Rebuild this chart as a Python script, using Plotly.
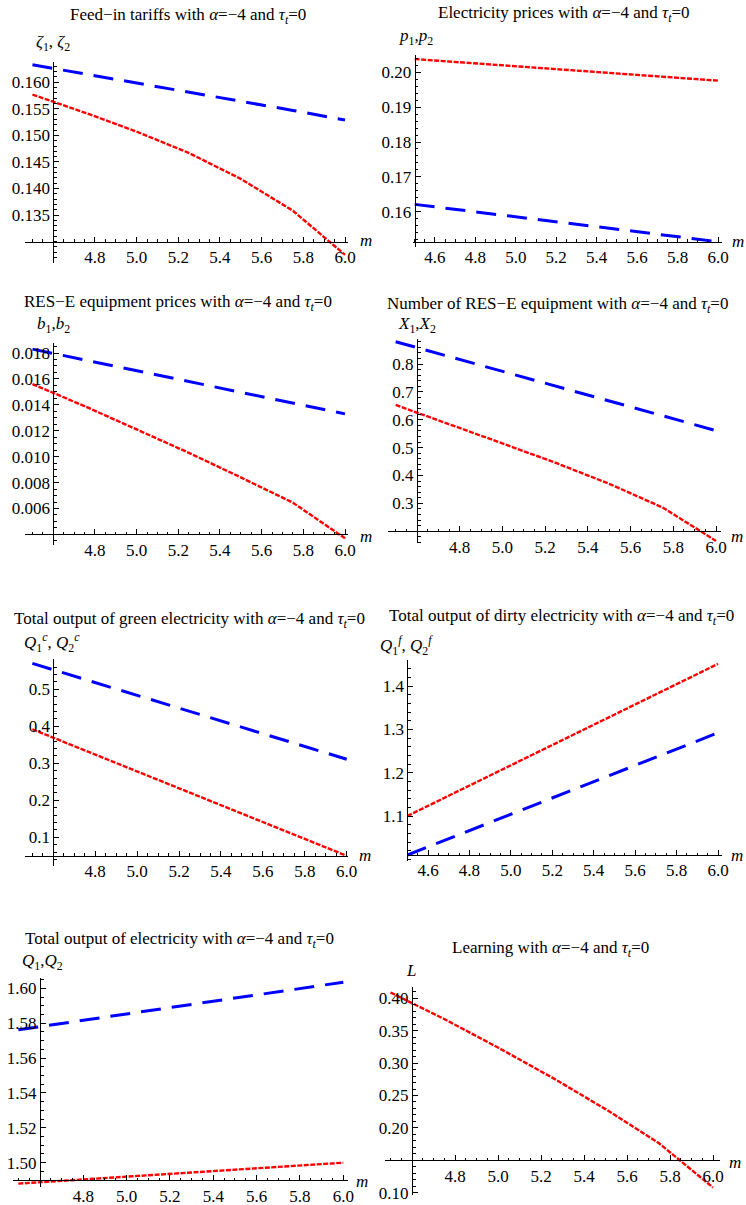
import plotly.graph_objects as go

# ---------------- data ----------------
m = [4.5, 4.75, 5.0, 5.25, 5.5, 5.75, 6.0]

zeta_blue = [0.1633, 0.1616, 0.1599, 0.1581, 0.1564, 0.1547, 0.1529]
zeta_red = [0.1577, 0.1543, 0.1507, 0.1467, 0.1418, 0.1358, 0.1275]

p_blue = [0.1621, 0.1603, 0.1585, 0.1568, 0.1550, 0.1532, 0.1514]
p_red = [0.2038, 0.2028, 0.2017, 0.2007, 0.1997, 0.1986, 0.1976]

b_blue = [0.0183, 0.01747, 0.01663, 0.0158, 0.01497, 0.01413, 0.0133]
b_red = [0.0156, 0.0139, 0.0121, 0.0103, 0.0084, 0.00645, 0.0037]

X_blue = [0.880, 0.827, 0.774, 0.720, 0.667, 0.614, 0.561]
X_red = [0.653, 0.585, 0.515, 0.445, 0.370, 0.285, 0.165]

Qc_blue = [0.570, 0.527, 0.484, 0.441, 0.397, 0.354, 0.311]
Qc_red = [0.392, 0.335, 0.278, 0.221, 0.164, 0.107, 0.050]

Qf_blue = [1.010, 1.057, 1.104, 1.151, 1.198, 1.245, 1.292]
Qf_red = [1.100, 1.1585, 1.217, 1.2755, 1.334, 1.3925, 1.451]

Q_blue = [1.5762, 1.5807, 1.5853, 1.5899, 1.5944, 1.5990, 1.6035]
Q_red = [1.4880, 1.4900, 1.4920, 1.4940, 1.4960, 1.4980, 1.5000]

L_red = [0.409, 0.368, 0.324, 0.278, 0.229, 0.176, 0.108]

# tick values / labels
x_ticks_short = [4.8, 5.0, 5.2, 5.4, 5.6, 5.8, 6.0]
x_ticks_long = [4.6, 4.8, 5.0, 5.2, 5.4, 5.6, 5.8, 6.0]
y_ticks_zeta = [0.135, 0.140, 0.145, 0.150, 0.155, 0.160]
y_ticks_p = [0.16, 0.17, 0.18, 0.19, 0.20]
y_ticks_b = [0.006, 0.008, 0.010, 0.012, 0.014, 0.016, 0.018]
y_ticks_X = [0.3, 0.4, 0.5, 0.6, 0.7, 0.8]
y_ticks_Qc = [0.1, 0.2, 0.3, 0.4, 0.5]
y_ticks_Qf = [1.1, 1.2, 1.3, 1.4]
y_ticks_Q = [1.50, 1.52, 1.54, 1.56, 1.58, 1.60]
y_ticks_L = [0.10, 0.20, 0.25, 0.30, 0.35, 0.40]

TAIL = " with <i>\u03b1</i>=\u22124 and <i>\u03c4</i><sub><i>t</i></sub>=0"
titles = [
    "Feed\u2212in tariffs" + TAIL,
    "Electricity prices" + TAIL,
    "RES\u2212E equipment prices" + TAIL,
    "Number of RES\u2212E equipment" + TAIL,
    "Total output of green electricity" + TAIL,
    "Total output of dirty electricity" + TAIL,
    "Total output of electricity" + TAIL,
    "Learning" + TAIL,
]
ylabels = [
    "<i>\u03b6</i><sub>1</sub>, <i>\u03b6</i><sub>2</sub>",
    "<i>p</i><sub>1</sub>,<i>p</i><sub>2</sub>",
    "<i>b</i><sub>1</sub>,<i>b</i><sub>2</sub>",
    "<i>X</i><sub>1</sub>,<i>X</i><sub>2</sub>",
    "<i>Q</i><sub>1</sub><sup><i>c</i></sup>, <i>Q</i><sub>2</sub><sup><i>c</i></sup>",
    "<i>Q</i><sub>1</sub><sup><i>f</i></sup>, <i>Q</i><sub>2</sub><sup><i>f</i></sup>",
    "<i>Q</i><sub>1</sub>,<i>Q</i><sub>2</sub>",
    "<i>L</i>",
]

# ---------------- layout geometry (pixels) ----------------
W0, H0 = 746, 1205


def fx(p):
    return p / W0


def fy(p):
    return 1 - p / H0


FONT = "Liberation Serif"
FS = 17

panels = [
    dict(series=[zeta_blue, zeta_red], xt=x_ticks_short, xfmt="%.1f", yt=y_ticks_zeta, yfmt="%.3f", ymin=0.001,
         xmap=(4.6, 53.3, 6.0, 345), xl=(25, 348), ymap=(0.160, 82.3, 0.135, 215), yl=(61.7, 262.7), org=(4.6, 0.13),
         title=(188, 16), ylab=(53, 43), mlab=(366, 241)),
    dict(series=[p_blue, p_red], xt=x_ticks_long, xfmt="%.1f", yt=y_ticks_p, yfmt="%.2f", ymin=0.002,
         xmap=(4.5, 414.7, 6.0, 718), xl=(413, 722.3), ymap=(0.20, 72.3, 0.16, 211.7), yl=(55, 246.7), org=(4.5, 0.1514),
         title=(564, 14), ylab=(416, 37), mlab=(738, 242)),
    dict(series=[b_blue, b_red], xt=x_ticks_short, xfmt="%.1f", yt=y_ticks_b, yfmt="%.3f", ymin=0.0005,
         xmap=(4.6, 53.3, 6.0, 345), xl=(25, 348), ymap=(0.018, 353, 0.006, 508.5), yl=(342.7, 545), org=(4.6, 0.004),
         title=(178, 303), ylab=(53, 325), mlab=(366, 536)),
    dict(series=[X_blue, X_red], xt=x_ticks_short, xfmt="%.1f", yt=y_ticks_X, yfmt="%.1f", ymin=0.02,
         xmap=(4.6, 417, 6.0, 716), xl=(388, 721.3), ymap=(0.8, 364, 0.3, 503.3), yl=(339.3, 543.3), org=(4.6, 0.2),
         title=(557, 305), ylab=(417, 325), mlab=(737, 536)),
    dict(series=[Qc_blue, Qc_red], xt=x_ticks_short, xfmt="%.1f", yt=y_ticks_Qc, yfmt="%.1f", ymin=0.02,
         xmap=(4.6, 53.3, 6.0, 346.7), xl=(25, 348), ymap=(0.5, 689.3, 0.1, 837.3), yl=(659.3, 866), org=(4.6, 0.05),
         title=(189, 620), ylab=(52, 642), mlab=(365, 855)),
    dict(series=[Qf_blue, Qf_red], xt=x_ticks_long, xfmt="%.1f", yt=y_ticks_Qf, yfmt="%.1f", ymin=0.02,
         xmap=(4.5, 407.3, 6.0, 718), xl=(407, 722.3), ymap=(1.4, 686, 1.1, 816), yl=(660, 861), org=(4.5, 1.01),
         title=(561, 617), ylab=(406, 645), mlab=(737, 855)),
    dict(series=[Q_blue, Q_red], xt=x_ticks_short, xfmt="%.1f", yt=y_ticks_Q, yfmt="%.2f", ymin=0.005,
         xmap=(4.6, 40, 6.0, 343.3), xl=(13.3, 348.3), ymap=(1.60, 988.3, 1.50, 1162.7), yl=(978.3, 1186.7), org=(4.6, 1.49),
         title=(179, 940), ylab=(42, 962), mlab=(362, 1181)),
    dict(series=[None, L_red], xt=x_ticks_short, xfmt="%.1f", yt=y_ticks_L, yfmt="%.2f", ymin=0.01,
         xmap=(4.6, 412, 6.0, 713), xl=(384.7, 719.7), ymap=(0.40, 998.3, 0.10, 1192.7), yl=(986.7, 1195), org=(4.6, 0.15),
         title=(550, 949), ylab=(411, 970), mlab=(735, 1162)),
]

fig = go.Figure()
layout = dict(
    width=W0, height=H0, margin=dict(l=0, r=0, t=0, b=0),
    paper_bgcolor="white", plot_bgcolor="white", showlegend=False,
    font=dict(family=FONT, size=FS, color="black"),
)
annotations = []

for i, P in enumerate(panels):
    k = "" if i == 0 else str(i + 1)
    xa, pxa, xb, pxb = P["xmap"]
    sx = (pxb - pxa) / (xb - xa)
    x0 = xa + (P["xl"][0] - pxa) / sx
    x1 = xa + (P["xl"][1] - pxa) / sx
    ya, pya, yb, pyb = P["ymap"]
    sy = (pyb - pya) / (yb - ya)
    ytop = ya + (P["yl"][0] - pya) / sy
    ybot = ya + (P["yl"][1] - pya) / sy
    ox, oy = P["org"]
    ox_px = pxa + (ox - xa) * sx
    oy_px = pya + (oy - ya) * sy

    common = dict(
        showline=True, linecolor="black", linewidth=1,
        ticks="inside", ticklen=5, tickwidth=1, tickcolor="black",
        showgrid=False, zeroline=False, anchor="free", automargin=False,
        tickfont=dict(family=FONT, size=FS, color="black"), tickmode="array",
    )
    layout["xaxis" + k] = dict(
        common, domain=[fx(P["xl"][0]), fx(P["xl"][1])], range=[x0, x1],
        position=fy(oy_px), side="bottom",
        tickvals=P["xt"], ticktext=[P["xfmt"] % v for v in P["xt"]],
        minor=dict(ticks="inside", ticklen=2.5, tickcolor="black", tickmode="linear", tick0=4.5, dtick=0.05),
    )
    layout["yaxis" + k] = dict(
        common, domain=[fy(P["yl"][1]), fy(P["yl"][0])], range=[ybot, ytop],
        position=fx(ox_px), side="left",
        tickvals=P["yt"], ticktext=[P["yfmt"] % v for v in P["yt"]],
        minor=dict(ticks="inside", ticklen=2.5, tickcolor="black", tickmode="linear", tick0=0, dtick=P["ymin"]),
    )
    blue, red = P["series"]
    if blue is not None:
        fig.add_trace(go.Scatter(x=m, y=blue, mode="lines", xaxis="x" + k, yaxis="y" + k,
                                 line=dict(color="#0000ff", width=3, dash="20px,11px")))
    fig.add_trace(go.Scatter(x=m, y=red, mode="lines", xaxis="x" + k, yaxis="y" + k,
                             line=dict(color="#ff0000", width=2.4, dash="5px,1.5px")))

    tx, ty = P["title"]
    annotations.append(dict(text=titles[i], x=fx(tx), y=fy(ty), xref="paper", yref="paper",
                            xanchor="center", yanchor="middle", showarrow=False,
                            font=dict(family=FONT, size=FS, color="black")))
    lx, ly = P["ylab"]
    annotations.append(dict(text=ylabels[i], x=fx(lx), y=fy(ly), xref="paper", yref="paper",
                            xanchor="center", yanchor="middle", showarrow=False,
                            font=dict(family=FONT, size=FS, color="black")))
    mx, my = P["mlab"]
    annotations.append(dict(text="<i>m</i>", x=fx(mx), y=fy(my), xref="paper", yref="paper",
                            xanchor="center", yanchor="middle", showarrow=False,
                            font=dict(family=FONT, size=FS, color="black")))

layout["annotations"] = annotations
fig.update_layout(**layout)
fig.write_html(
    "out.html",
    config={"displayModeBar": False, "staticPlot": True},
    post_script="document.body.style.margin='0';document.body.style.overflow='hidden';",
)
